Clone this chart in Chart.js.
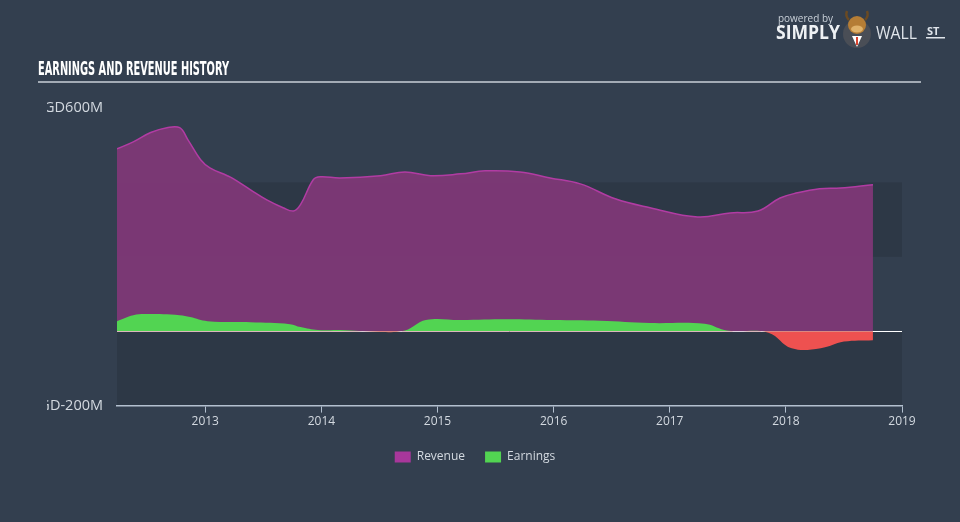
<!DOCTYPE html>
<html>
<head>
<meta charset="utf-8">
<script src="https://cdn.jsdelivr.net/npm/chart.js@4.4.1/dist/chart.umd.min.js"></script>
<style>
  html, body { margin: 0; padding: 0; background: #333f4f; }
  #wrap { width: 960px; height: 522px; position: relative; }
</style>
</head>
<body>
<div id="wrap"><canvas id="chart" width="960" height="522"></canvas></div>
<script>
// revenue history, SGD millions
const revenueYears = [2012.24, 2012.38, 2012.53, 2012.67, 2012.78, 2012.85, 2012.96, 2013.04, 2013.19, 2013.24,
    2013.39, 2013.53, 2013.67, 2013.76, 2013.82, 2013.93, 2013.99, 2014.16, 2014.51, 2014.72,
    2014.94, 2015.20, 2015.41, 2015.71, 2015.97, 2016.23, 2016.53, 2016.83, 2017.24, 2017.52,
    2017.76, 2017.95, 2018.10, 2018.29, 2018.47, 2018.75];
const revenueValues = [490, 509, 534, 547, 547, 515, 461, 439, 418, 410,
    380, 353, 332, 323, 340, 407, 415, 412, 418, 428,
    418, 423, 431, 428, 412, 396, 356, 332, 307, 318,
    323, 358, 372, 383, 385, 394];

// earnings history, SGD millions
const earningsYears = [2012.24, 2012.38, 2012.50, 2012.78, 2012.87, 2013.02, 2013.39, 2013.73, 2013.82, 2013.97,
    2014.16, 2014.50, 2014.72, 2014.90, 2015.20, 2015.60, 2016.00, 2016.40, 2016.83, 2017.30,
    2017.47, 2017.55, 2017.85, 2018.05, 2018.30, 2018.50, 2018.75];
const earningsValues = [27, 43, 46, 43, 38, 27, 24, 19, 11, 3,
    3, -2, 2, 30, 30, 32, 30, 28, 22, 20,
    3, 0, -4, -46, -46, -28, -24];

const xTicks = [2013, 2014, 2015, 2016, 2017, 2018, 2019];
const yTickValues = [600, -200];
const yTickLabels = ['SGD600M', 'SGD-200M'];
const legendColors = ['#a8379b', '#52d452'];

const BG = '#333f4f';
const BAND = '#2d3846';

const toPoints = (xs, ys) => xs.map((x, i) => ({ x: x, y: ys[i] }));

// background, bands, title, logo
const decor = {
    id: 'decor',
    beforeDraw(chart) {
        const ctx = chart.ctx;
        const area = chart.chartArea;
        const y = chart.scales.y;
        ctx.save();
        ctx.fillStyle = BG;
        ctx.fillRect(0, 0, chart.width, chart.height);
        ctx.fillStyle = BAND;
        [[-200, 0], [200, 400]].forEach(b => {
            const top = y.getPixelForValue(b[1]);
            const bot = y.getPixelForValue(b[0]);
            ctx.fillRect(area.left, top, area.right - area.left, bot - top);
        });

        // title
        ctx.fillStyle = '#ffffff';
        ctx.font = 'bold 19px "Liberation Sans Narrow", "DejaVu Sans Condensed", sans-serif';
        ctx.textBaseline = 'alphabetic';
        ctx.textAlign = 'left';
        ctx.fillText('EARNINGS AND REVENUE HISTORY', 38, 75, 191);
        ctx.fillStyle = '#a3abb5';
        ctx.fillRect(38, 81, 883, 2);

        // logo
        ctx.fillStyle = '#c9d0d8';
        ctx.font = '11px "Open Sans", sans-serif';
        ctx.fillText('powered by', 778, 22, 55);
        ctx.fillStyle = '#eef1f4';
        ctx.font = 'bold 19px "Open Sans", sans-serif';
        ctx.fillText('SIMPLY', 776, 39, 64);
        ctx.fillStyle = '#dfe4ea';
        ctx.font = '19px "Open Sans", sans-serif';
        ctx.fillText('WALL', 876, 39, 41);
        ctx.font = 'bold 11px "Open Sans", sans-serif';
        ctx.fillText('ST', 927, 35, 17);
        ctx.fillRect(926, 37, 19, 1.5);
        // bull badge
        ctx.fillStyle = '#4a4e56';
        ctx.beginPath();
        ctx.arc(857, 34, 14, 0, Math.PI * 2);
        ctx.fill();
        ctx.strokeStyle = '#6b4a22';
        ctx.lineWidth = 2.5;
        ctx.beginPath();
        ctx.moveTo(849, 20); ctx.quadraticCurveTo(845, 16, 847, 11);
        ctx.moveTo(865, 20); ctx.quadraticCurveTo(869, 16, 867, 11);
        ctx.stroke();
        ctx.fillStyle = '#b57d35';
        ctx.beginPath();
        ctx.ellipse(857, 25, 9, 9, 0, 0, Math.PI * 2);
        ctx.fill();
        ctx.fillStyle = '#e0b26a';
        ctx.beginPath();
        ctx.ellipse(857, 29, 6, 3.5, 0, 0, Math.PI * 2);
        ctx.fill();
        ctx.fillStyle = '#ffffff';
        ctx.beginPath();
        ctx.moveTo(852, 36); ctx.lineTo(862, 36); ctx.lineTo(857, 47); ctx.closePath();
        ctx.fill();
        ctx.fillStyle = '#d9442f';
        ctx.fillRect(856, 37, 2, 8);
        ctx.restore();
    },
    afterDraw(chart) {
        // y labels, clipped on the left like the original
        const ctx = chart.ctx;
        const y = chart.scales.y;
        ctx.save();
        ctx.beginPath();
        ctx.rect(47, 0, 200, chart.height);
        ctx.clip();
        ctx.fillStyle = '#d3d9e0';
        ctx.font = '14.5px "Open Sans", sans-serif';
        ctx.textAlign = 'right';
        ctx.textBaseline = 'middle';
        yTickValues.forEach((v, i) => {
            ctx.fillText(yTickLabels[i], 103, y.getPixelForValue(v));
        });
        ctx.restore();
    }
};

new Chart(document.getElementById('chart'), {
    type: 'line',
    data: {
        datasets: [{
            label: 'Revenue',
            data: toPoints(revenueYears, revenueValues),
            borderColor: '#b13ca3',
            borderWidth: 1.5,
            backgroundColor: 'rgba(125,56,118,0.97)',
            fill: 'origin',
            pointRadius: 0,
            tension: 0.4,
            order: 2
        }, {
            label: 'Earnings',
            data: toPoints(earningsYears, earningsValues),
            borderWidth: 0,
            backgroundColor: '#52d452',
            fill: { target: 'origin', above: '#52d452', below: '#ee5150' },
            pointRadius: 0,
            tension: 0.4,
            order: 1
        }]
    },
    options: {
        responsive: false,
        animation: false,
        layout: { padding: { top: 108, left: 48, right: 58, bottom: 49 } },
        scales: {
            x: {
                type: 'linear',
                min: 2012.24,
                max: 2019,
                afterBuildTicks(scale) {
                    scale.ticks = xTicks.map(v => ({ value: v }));
                },
                border: { color: '#b3c0cf', width: 1.5 },
                grid: { drawOnChartArea: false, color: '#b3c0cf', tickLength: 7 },
                ticks: {
                    color: '#d3d9e0',
                    font: { family: '"Open Sans", sans-serif', size: 12 },
                    padding: 2,
                    callback: v => String(v)
                }
            },
            y: {
                min: -200,
                max: 600,
                afterFit(scale) { scale.width = 69; },
                border: { display: false },
                grid: {
                    drawTicks: false,
                    color: ctx => ctx.tick && ctx.tick.value === 0 ? '#ffffff' : 'rgba(0,0,0,0)'
                },
                ticks: { display: false, stepSize: 200 }
            }
        },
        plugins: {
            legend: {
                position: 'bottom',
                labels: {
                    color: '#d3d9e0',
                    font: { family: '"Open Sans", sans-serif', size: 12 },
                    boxWidth: 16,
                    boxHeight: 11,
                    padding: 20,
                    sort: (a, b) => a.datasetIndex - b.datasetIndex,
                    generateLabels(chart) {
                        return Chart.defaults.plugins.legend.labels.generateLabels(chart).map(l => {
                            l.fillStyle = legendColors[l.datasetIndex];
                            l.strokeStyle = 'rgba(0,0,0,0)';
                            l.lineWidth = 0;
                            return l;
                        });
                    }
                }
            },
            tooltip: { enabled: false }
        }
    },
    plugins: [decor]
});
</script>
</body>
</html>
